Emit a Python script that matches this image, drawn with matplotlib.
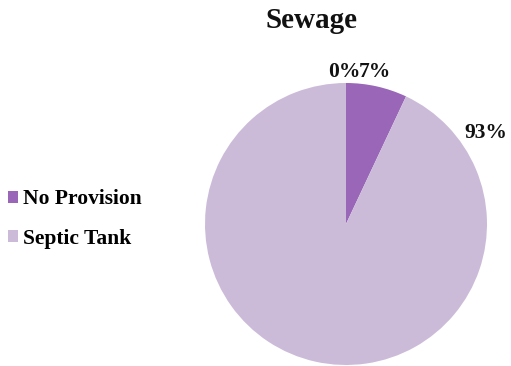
import matplotlib.pyplot as plt

categories = ["", "No Provision", "Septic Tank"]
values = [0, 7, 93]
colors = ["#cbbbd9", "#9966b8", "#cbbbd9"]

plt.rcParams["font.family"] = ["Liberation Serif", "DejaVu Serif"]
plt.rcParams["font.weight"] = "bold"

fig = plt.figure(figsize=(5.11, 3.66), dpi=100)
ax = fig.add_axes([205 / 511, 1 / 366, 282 / 511, 282 / 366])
wedges, _ = ax.pie(values, colors=colors, startangle=90, counterclock=False,
                   radius=1, wedgeprops=dict(linewidth=0))
ax.set_xlim(-1, 1)
ax.set_ylim(-1, 1)
ax.set_aspect("equal")

# percentage labels placed around the top of the pie
label_pos = [(-0.015, 1.075), (0.205, 1.075), (0.99, 0.645)]
for v, (x, y) in zip(values, label_pos):
    ax.text(x, y, f"{v}%", ha="center", va="center", fontsize=15.5,
            fontweight="bold", color="#111111", clip_on=False)

fig.text(311 / 511, 1 - 20 / 366, "Sewage", ha="center", va="center",
         fontsize=21, fontweight="bold", color="#111111")

fig.legend(wedges[1:], categories[1:], loc="center left",
           bbox_to_anchor=(4 / 511, 1 - 219 / 366), frameon=False,
           fontsize=15.5, handlelength=0.47, handleheight=0.47,
           handletextpad=0.2, labelspacing=0.9, borderaxespad=0.0,
           borderpad=0.2)

fig.savefig("out.png", dpi=100)
